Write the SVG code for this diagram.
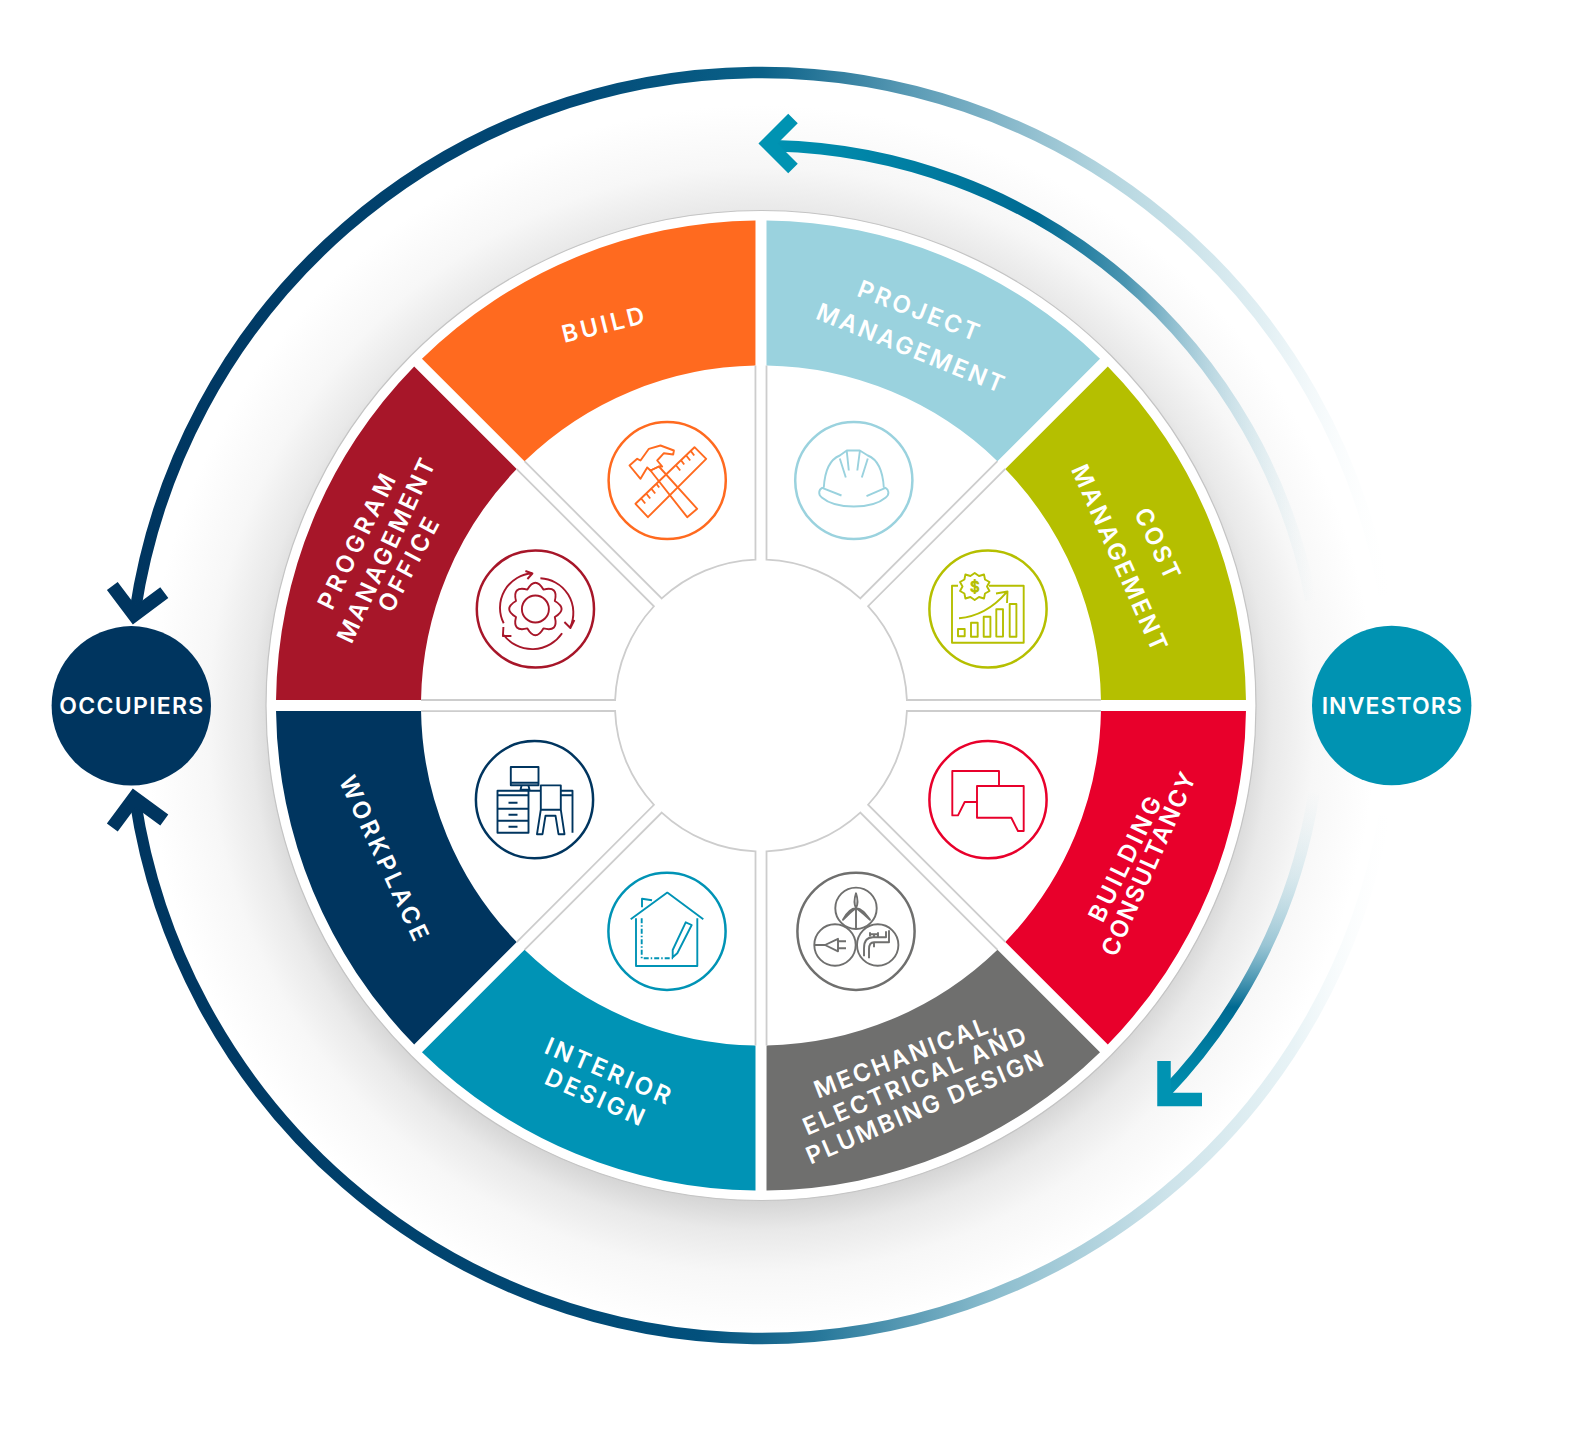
<svg xmlns="http://www.w3.org/2000/svg" width="1581" height="1450" viewBox="0 0 1581 1450">
<style>
text{font-family:Inter,"Liberation Sans",sans-serif;font-weight:600;fill:#fff;font-size:24px;text-anchor:middle;dominant-baseline:central}
.hub{font-size:23px}
.edge{fill:none;stroke:#cdcdcd;stroke-width:1.8}
.ic{fill:none;stroke-width:1.9;stroke-linejoin:round}
.ring{fill:#fff;stroke-width:2.5}
.head{fill:none;stroke-width:13.5;stroke-linejoin:miter;stroke-miterlimit:6}
.arc{fill:none;stroke-width:11.5}
</style>
<defs>
<radialGradient id="shadow" gradientUnits="userSpaceOnUse" cx="761" cy="720" r="615">
<stop offset="0.78" stop-color="#d4d4d4"/><stop offset="0.83" stop-color="#e9e9e9"/><stop offset="0.9" stop-color="#f7f7f7"/><stop offset="1" stop-color="#fff"/>
</radialGradient>
<linearGradient id="outerTop" gradientUnits="userSpaceOnUse" x1="130" y1="0" x2="1395" y2="0">
<stop offset="0" stop-color="#00355f"/><stop offset="0.35" stop-color="#024a77"/><stop offset="0.5" stop-color="#0a6188"/><stop offset="0.62" stop-color="#5c9cb6"/><stop offset="0.77" stop-color="#b3d5df"/><stop offset="0.9" stop-color="#e3f0f4"/><stop offset="1" stop-color="#fff" stop-opacity="0"/>
</linearGradient>
<linearGradient id="outerBot" gradientUnits="userSpaceOnUse" x1="130" y1="0" x2="1395" y2="0">
<stop offset="0" stop-color="#00355f"/><stop offset="0.45" stop-color="#02507c"/><stop offset="0.55" stop-color="#2a7a9c"/><stop offset="0.68" stop-color="#8abccd"/><stop offset="0.82" stop-color="#cde3ea"/><stop offset="0.92" stop-color="#e8f3f6"/><stop offset="1" stop-color="#fff" stop-opacity="0"/>
</linearGradient>
<linearGradient id="innerTop" gradientUnits="userSpaceOnUse" x1="759" y1="0" x2="1315" y2="0">
<stop offset="0" stop-color="#0093b2"/><stop offset="0.25" stop-color="#0080a4"/><stop offset="0.5" stop-color="#006a92"/><stop offset="0.66" stop-color="#006a92" stop-opacity="0.7"/><stop offset="0.8" stop-color="#4d9cb8" stop-opacity="0.4"/><stop offset="0.9" stop-color="#90c5d5" stop-opacity="0.25"/><stop offset="1" stop-color="#bcdde6" stop-opacity="0"/>
</linearGradient>
<linearGradient id="innerBot" gradientUnits="userSpaceOnUse" x1="0" y1="1100" x2="0" y2="790">
<stop offset="0" stop-color="#0093b2"/><stop offset="0.3" stop-color="#006a92"/><stop offset="0.5" stop-color="#4d9cb8" stop-opacity="0.55"/><stop offset="0.72" stop-color="#90c5d5" stop-opacity="0.3"/><stop offset="1" stop-color="#bcdde6" stop-opacity="0"/>
</linearGradient>
<path id="band" d="M5.5,-484.97 A485,485 0 0 1 339.03,-346.81 L236.46,-244.31 A340,340 0 0 0 5.5,-339.96 Z"/>
<path id="lines" class="edge" d="M5.5,-340 V-145.9 A146,146 0 0 1 99.26,-107.07 L236.46,-244.31"/>
</defs>

<rect width="1581" height="1450" fill="#fff"/>
<circle cx="761" cy="720" r="615" fill="url(#shadow)"/>
<circle cx="761" cy="705.5" r="495" fill="#fff" stroke="#c4c4c4" stroke-width="1.2"/>

<g id="connectors">
<path class="arc" stroke="url(#outerTop)" d="M1384.4,595.5 A633,633 0 0 0 135.2,610.5"/>
<path class="arc" stroke="url(#outerBot)" d="M135.2,800.5 A633,633 0 0 0 1384.4,815.5"/>
<polyline class="head" stroke="#00355f" points="112.3,586 134.2,615 164.3,592.7"/>
<polyline class="head" stroke="#00355f" points="112.3,827.5 134.2,798 164.3,820"/>
<path class="arc" stroke="url(#innerTop)" d="M1311,600 A560,560 0 0 0 775,145.7"/>
<polyline class="head" stroke="#0093b2" points="793,118.5 768,143.5 793,168.5"/>
<path class="arc" stroke="url(#innerBot)" d="M1165,1093 A560,560 0 0 0 1314,793"/>
<polyline class="head" stroke="#0093b2" points="1202,1099.5 1164,1099.5 1164,1061"/>
</g>

<g id="project-management">
<use href="#band" fill="#9ad2de" transform="translate(761 705.5)"/>
<use href="#lines" transform="translate(761 705.5)"/>
<text transform="translate(918.6 310.5) rotate(21)" textLength="128">PROJECT</text>
<text transform="translate(910.5 347.9) rotate(22)" textLength="200">MANAGEMENT</text>
<g transform="translate(853.8 480.5)" stroke="#9ad2de">
<circle class="ring" r="58.6"/>
<path class="ic" d="M-30,7 C-29,-10 -24,-21 -14,-25 L-7,-30 H6 L14,-25 C24,-21 29,-10 30,7 M-12.3,15 L-31.7,7.3 C-35,9 -36,14 -32,17 C-18,29 18,29 32,17 C36,14 35,9 31.7,7.3 L12.7,15.7 M-14,-22 L-8,-3 M-7,-29 L-5,-10 M6,-29 L3.5,-10 M14,-22 L8,-3"/>
</g>
</g>

<g id="cost-management">
<use href="#band" fill="#b5bf00" transform="translate(761 705.5) rotate(45)"/>
<use href="#lines" transform="translate(761 705.5) rotate(45)"/>
<text transform="translate(1157.5 543.5) rotate(65)" textLength="76">COST</text>
<text transform="translate(1119.5 557.6) rotate(66)" textLength="201">MANAGEMENT</text>
<g transform="translate(988 609)" stroke="#b5bf00">
<circle class="ring" r="58.6"/>
<path class="ic" d="M-30,-23.3 H-36 V33.7 H35.7 V-23.3 H1"/>
<path class="ic" d="M-13.3,-36 L-9,-33 -4,-34.5 -3,-29.5 1.5,-27 -1,-22.5 1.5,-18 -3,-15.5 -4,-10.5 -9,-12 -13.3,-9 -17.6,-12 -22.6,-10.5 -23.6,-15.5 -28,-18 -25.5,-22.5 -28,-27 -23.6,-29.5 -22.6,-34.5 -17.6,-33 Z"/>
<text x="-13.3" y="-22.5" style="fill:#b5bf00;font-size:15px;font-weight:400">$</text>
<path class="ic" d="M-29,9.3 Q-2,7 18.3,-16.3 M8,-15.5 L19.5,-17.5 L19,-6"/>
<rect class="ic" x="-30" y="20" width="6.7" height="7.3"/>
<rect class="ic" x="-17" y="13.7" width="6.7" height="14"/>
<rect class="ic" x="-4.3" y="7.7" width="6.7" height="20"/>
<rect class="ic" x="8.3" y="0.3" width="6.7" height="27.3"/>
<rect class="ic" x="21.7" y="-5" width="6.7" height="32.7"/>
</g>
</g>

<g id="building-consultancy">
<use href="#band" fill="#e8002b" transform="translate(761 705.5) rotate(90)"/>
<use href="#lines" transform="translate(761 705.5) rotate(90)"/>
<text transform="translate(1125 859) rotate(-64)" textLength="136">BUILDING</text>
<text transform="translate(1148.4 864) rotate(-66)" textLength="198">CONSULTANCY</text>
<g transform="translate(988 799.7)" stroke="#e8002b">
<circle class="ring" r="58.6"/>
<path class="ic" d="M11,-13.7 V-28.7 H-35.7 V15.7 H-30 L-23.3,2.3 H-11 M-11,-13.7 H35.7 V31.3 H30 L23.3,18 H-11 Z"/>
</g>
</g>

<g id="mechanical-electrical-plumbing-design">
<use href="#band" fill="#6f6f6e" transform="translate(761 705.5) rotate(135)"/>
<use href="#lines" transform="translate(761 705.5) rotate(135)"/>
<text transform="translate(905.4 1056) rotate(-21)" textLength="194">MECHANICAL,</text>
<text transform="translate(914.5 1081) rotate(-23)" textLength="240">ELECTRICAL AND</text>
<text transform="translate(924.6 1107) rotate(-23)" textLength="255">PLUMBING DESIGN</text>
<g transform="translate(856 931.3)" stroke="#6f6f6e">
<circle class="ring" r="58.6"/>
<g class="ic" stroke-width="1.4">
<circle cx="0" cy="-23" r="20.7"/><circle cx="-21" cy="13.7" r="20.7"/><circle cx="21.7" cy="13.7" r="20.7"/>
<path d="M0,-23 V-3 M0,-23 C-3,-29 -1,-35 0,-38 C1,-35 3,-29 0,-23 Z M0,-23 C-5,-20 -10,-14 -13,-11.5 C-10,-17 -6,-23 0,-23 Z M0,-23 C5,-20 11,-14 14,-11.5 C10,-17 6,-23 0,-23 Z"/>
<path d="M-41,13.7 H-31 L-18,7.5 V20 L-31,13.7 M-18,10 H-10 M-18,17 H-10"/>
<path d="M8,25 V17 C8,8 12,6 17,6 H30 V0 M13,27 V18 C13,13 15,11 18,11 H33 V-1 M14,3 H22 M14,1 V5 M22,1 V5 M18,6 V3 M18,11 V16"/>
</g>
</g>
</g>

<g id="interior-design">
<use href="#band" fill="#0093b5" transform="translate(761 705.5) rotate(180)"/>
<use href="#lines" transform="translate(761 705.5) rotate(180)"/>
<text transform="translate(608 1070.8) rotate(23)" textLength="134">INTERIOR</text>
<text transform="translate(594.9 1097) rotate(24)" textLength="106">DESIGN</text>
<g transform="translate(667 931.3)" stroke="#0093b5">
<circle class="ring" r="58.6"/>
<path class="ic" d="M-36.3,-12 L0.3,-38.7 L36.3,-12 M-25,-24 V-32.5 L-15,-31 M-31,-13 V34.7 H30.3 V-13"/>
<path class="ic" stroke-dasharray="5 2 1.5 2" d="M-25.3,-13 V27 H6"/>
<path class="ic" d="M18.7,-9 L24.7,-6.3 L10.3,22 L5.7,26 L5.7,18.7 Z"/>
</g>
</g>

<g id="workplace">
<use href="#band" fill="#00355f" transform="translate(761 705.5) rotate(225)"/>
<use href="#lines" transform="translate(761 705.5) rotate(225)"/>
<text transform="translate(384 858) rotate(65)" textLength="179">WORKPLACE</text>
<g transform="translate(534.5 799.7)" stroke="#00355f">
<circle class="ring" r="58.6"/>
<rect class="ic" x="-23.7" y="-32.7" width="27.7" height="18.3"/>
<path class="ic" d="M-23.7,-17 H4 M-13,-14 L-14,-10 H-5 L-6,-14"/>
<path class="ic" d="M6,-9 H-37 V33 H-6 V-9 M-37,-4.5 H-6 M-37,9 H-6 M-37,21 H-6 M26,-9 H38 V33 M37,-4.5 H26 M-26,3 H-17 M-26,15 H-17 M-26,27 H-17"/>
<path class="ic" fill="#fff" d="M6.3,-14.3 H26.3 V10 L30,34.5 H24 L21,16 H11 L8,34.5 H2.5 L6.3,10 Z M6.3,10 H26.3"/>
</g>
</g>

<g id="program-management-office">
<use href="#band" fill="#a71629" transform="translate(761 705.5) rotate(270)"/>
<use href="#lines" transform="translate(761 705.5) rotate(270)"/>
<text transform="translate(356.5 541.5) rotate(-64)" textLength="147">PROGRAM</text>
<text transform="translate(386 550.5) rotate(-65)" textLength="200">MANAGEMENT</text>
<text transform="translate(408.5 564.6) rotate(-62)" textLength="103">OFFICE</text>
<g transform="translate(535.4 609)" stroke="#a71629">
<circle class="ring" r="58.6"/>
<g class="ic">
<circle r="13.5"/>
<path d="M19.4,-8 Q33,0 19.4,8 Q23.3,23.3 8,19.4 Q0,33 -8,19.4 Q-23.3,23.3 -19.4,8 Q-33,0 -19.4,-8 Q-23.3,-23.3 -8,-19.4 Q0,-33 8,-19.4 Q23.3,-23.3 19.4,-8 Z"/>
<path d="M-31.7,14.3 A34.5,34.5 0 0 1 -3.3,-35.7 M-10,-38 L-3,-35.5 L-8,-30"/>
<path d="M5,-30.7 A34.5,34.5 0 0 1 35,17.7 M29,13 L35,19 L39,11"/>
<path d="M26.7,24.3 A36,36 0 0 1 -31.7,26 M-32,18 L-32.5,27 L-24,27"/>
</g>
</g>
</g>

<g id="build">
<use href="#band" fill="#ff6a1f" transform="translate(761 705.5) rotate(315)"/>
<use href="#lines" transform="translate(761 705.5) rotate(315)"/>
<text transform="translate(603 324.7) rotate(-14)" textLength="84">BUILD</text>
<g transform="translate(667.2 480.5)" stroke="#ff6a1f">
<circle class="ring" r="58.6"/>
<path class="ic" d="M-31.7,23.3 L-19.3,36.7 L39,-21.7 L27.3,-33.3 Z M-26,18 l4,5 M-21,13 l4,5 M-16,8 l4,5 M-11,3 l3,4 M9,-15 l4,5 M14,-20 l3,4 M19,-25 l4,5 M24,-29 l3,4"/>
<path class="ic" fill="#fff" d="M-16.7,-10 L-8.3,-14 L30,28.3 L20,36.7 Z"/>
<path class="ic" fill="#fff" d="M-37.7,-15 L-30,-21.7 L-26.7,-20 L-18.3,-31.7 L-6.7,-35 L6.7,-30 L6,-26 L-3.3,-27.3 L-10,-20 L-5,-14 L-8.3,-14 L-16.7,-10 L-20,-13 L-26.7,-1.7 Z"/>
</g>
</g>

<g id="occupiers">
<circle cx="131.3" cy="705.8" r="79.7" fill="#00355f"/>
<text class="hub" x="131.3" y="706" textLength="144">OCCUPIERS</text>
</g>
<g id="investors">
<circle cx="1391.7" cy="705.5" r="79.7" fill="#0093b2"/>
<text class="hub" x="1391.7" y="706" textLength="140">INVESTORS</text>
</g>
</svg>
